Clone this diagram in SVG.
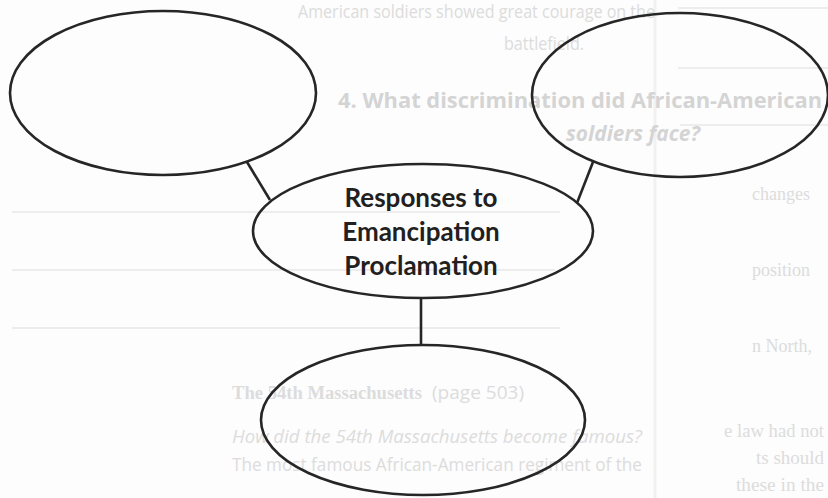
<svg xmlns="http://www.w3.org/2000/svg" width="828" height="498" viewBox="0 0 828 498">
  <style>
    .ghostline { stroke: #ededed; stroke-width: 2; fill: none; }
    .ghost { fill: #dcdcdc; font-family: "Open Sans", "Liberation Sans", sans-serif; font-size: 18px; }
    .ghostb { fill: #d4d4d4; font-family: "Open Sans", "Liberation Sans", sans-serif; font-size: 21px; font-weight: 700; }
    .ghosts { fill: #dcdcdc; font-family: "Liberation Serif", serif; font-size: 18px; }
    .node { fill: none; stroke: #262626; stroke-width: 2.6; }
    .edge { stroke: #262626; stroke-width: 2.6; fill: none; }
    .label { fill: #231f20; font-family: Lato, "Open Sans", sans-serif; font-size: 26px; font-weight: 700; text-anchor: middle; }
  </style>
  <rect x="0" y="0" width="828" height="498" fill="#fdfdfd"/>

  <!-- faint show-through of the page behind -->
  <g id="background-page">
    <line class="ghostline" x1="655" y1="0" x2="655" y2="498" style="stroke:#f1f1f1;stroke-width:3"/>
    <line class="ghostline" x1="12" y1="212" x2="560" y2="212"/>
    <line class="ghostline" x1="12" y1="270" x2="555" y2="270"/>
    <line class="ghostline" x1="12" y1="328" x2="560" y2="328"/>
    <line class="ghostline" x1="678" y1="8" x2="828" y2="8"/>
    <line class="ghostline" x1="678" y1="68" x2="828" y2="68"/>
    <line class="ghostline" x1="680" y1="125" x2="828" y2="125"/>
    <text class="ghost" x="298" y="18" textLength="357" lengthAdjust="spacingAndGlyphs">American soldiers showed great courage on the</text>
    <text class="ghost" x="504" y="50" textLength="80" lengthAdjust="spacingAndGlyphs">battlefield.</text>
    <text class="ghostb" x="338" y="108" textLength="484" lengthAdjust="spacingAndGlyphs">4. What discrimination did African-American</text>
    <text class="ghostb" x="566" y="141" textLength="134" lengthAdjust="spacingAndGlyphs" font-style="italic">soldiers face?</text>
    <text class="ghosts" x="752" y="200">changes</text>
    <text class="ghosts" x="752" y="276">position</text>
    <text class="ghosts" x="752" y="352">n North,</text>
    <text class="ghosts" x="724" y="437" textLength="100" lengthAdjust="spacingAndGlyphs">e law had not</text>
    <text class="ghosts" x="756" y="464" textLength="68" lengthAdjust="spacingAndGlyphs">ts should</text>
    <text class="ghosts" x="736" y="491" textLength="88" lengthAdjust="spacingAndGlyphs">these in the</text>
    <text class="ghosts" x="232" y="399" textLength="190" lengthAdjust="spacingAndGlyphs" font-weight="700" font-size="23">The 54th Massachusetts</text>
    <text class="ghost" x="432" y="399" textLength="92" lengthAdjust="spacingAndGlyphs">(page 503)</text>
    <text class="ghost" x="232" y="443" textLength="410" lengthAdjust="spacingAndGlyphs" font-style="italic" font-size="19">How did the 54th Massachusetts become famous?</text>
    <text class="ghost" x="232" y="471" textLength="410" lengthAdjust="spacingAndGlyphs" font-size="19">The most famous African-American regiment of the</text>
  </g>

  <g id="connectors">
    <line class="edge" x1="247" y1="162" x2="270" y2="200"/>
    <line class="edge" x1="593" y1="162" x2="577" y2="203"/>
    <line class="edge" x1="421" y1="299" x2="421" y2="346"/>
  </g>

  <g id="node-top-left">
    <ellipse class="node" cx="163" cy="93" rx="153" ry="82"/>
  </g>
  <g id="node-top-right">
    <ellipse class="node" cx="680" cy="95" rx="148" ry="82"/>
  </g>
  <g id="node-center">
    <ellipse class="node" cx="423" cy="231" rx="170" ry="67"/>
    <text class="label" x="421" y="207">Responses to</text>
    <text class="label" x="421" y="241">Emancipation</text>
    <text class="label" x="421" y="275">Proclamation</text>
  </g>
  <g id="node-bottom">
    <ellipse class="node" cx="423" cy="420" rx="162" ry="75"/>
  </g>
</svg>
